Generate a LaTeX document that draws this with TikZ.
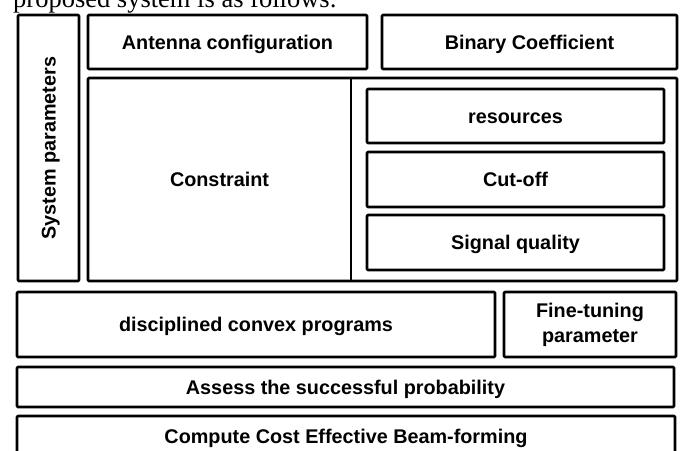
\documentclass[tikz,border=0pt]{standalone}
\usepackage{fontspec}
\setmainfont{Liberation Sans}
\newfontfamily\captionserif{Liberation Serif}
\begin{document}
\begin{tikzpicture}[x=1pt,y=-1pt,
  frame/.style={line width=2.7pt, line join=round},
  box/.style={draw, frame, rounded corners=1pt, inner sep=0pt,
    font=\bfseries\fontsize{19.8}{25}\selectfont, align=center},
  oneline/.style={text height=14.2pt, text depth=0pt},
  label/.style={inner sep=0pt, font=\bfseries\fontsize{19.8}{25}\selectfont,
    text height=14.2pt, text depth=0pt}
]
\useasboundingbox (0,0) rectangle (680,450);
% caption line cut off at the top
\node[anchor=base west, inner sep=0pt, font=\captionserif\fontsize{26.5}{30}\selectfont]
  (cap) at (13,7) {proposed system is as follows:};
% left column
\node[box, oneline, rotate=90, minimum width=266pt, minimum height=61pt]
  (sys) at (48.5,148) {System parameters};
% top row
\node[box, oneline, minimum width=279pt, minimum height=54pt]
  (ant) at (227.5,42) {Antenna configuration};
\node[box, oneline, minimum width=295pt, minimum height=54pt]
  (bin) at (529.5,42) {Binary Coefficient};
% constraint block
\node[box, minimum width=589pt, minimum height=203pt] (con) at (382.5,179.5) {};
\coordinate (divtop) at (351,78);
\coordinate (divbot) at (351,281);
\draw[frame] (divtop) -- (divbot);
\node[label] (contxt) at (219.5,179.5) {Constraint};
\node[box, oneline, minimum width=297pt, minimum height=54pt]
  (res) at (515.5,116) {resources};
\node[box, oneline, minimum width=297pt, minimum height=55pt]
  (cut) at (515.5,179.5) {Cut-off};
\node[box, oneline, minimum width=297pt, minimum height=55pt]
  (sig) at (515.5,242.5) {Signal quality};
% lower rows
\node[box, oneline, minimum width=478pt, minimum height=65pt]
  (dcp) at (256,324.5) {disciplined convex programs};
\node[box, minimum width=172pt, minimum height=65pt]
  (fin) at (590,324.5) {Fine-tuning\\parameter};
\node[box, oneline, minimum width=657pt, minimum height=40pt]
  (ass) at (345.5,387) {Assess the successful probability};
\node[box, oneline, minimum width=658pt, minimum height=40pt]
  (cmp) at (346,436) {Compute Cost Effective Beam-forming};
\end{tikzpicture}
\end{document}
